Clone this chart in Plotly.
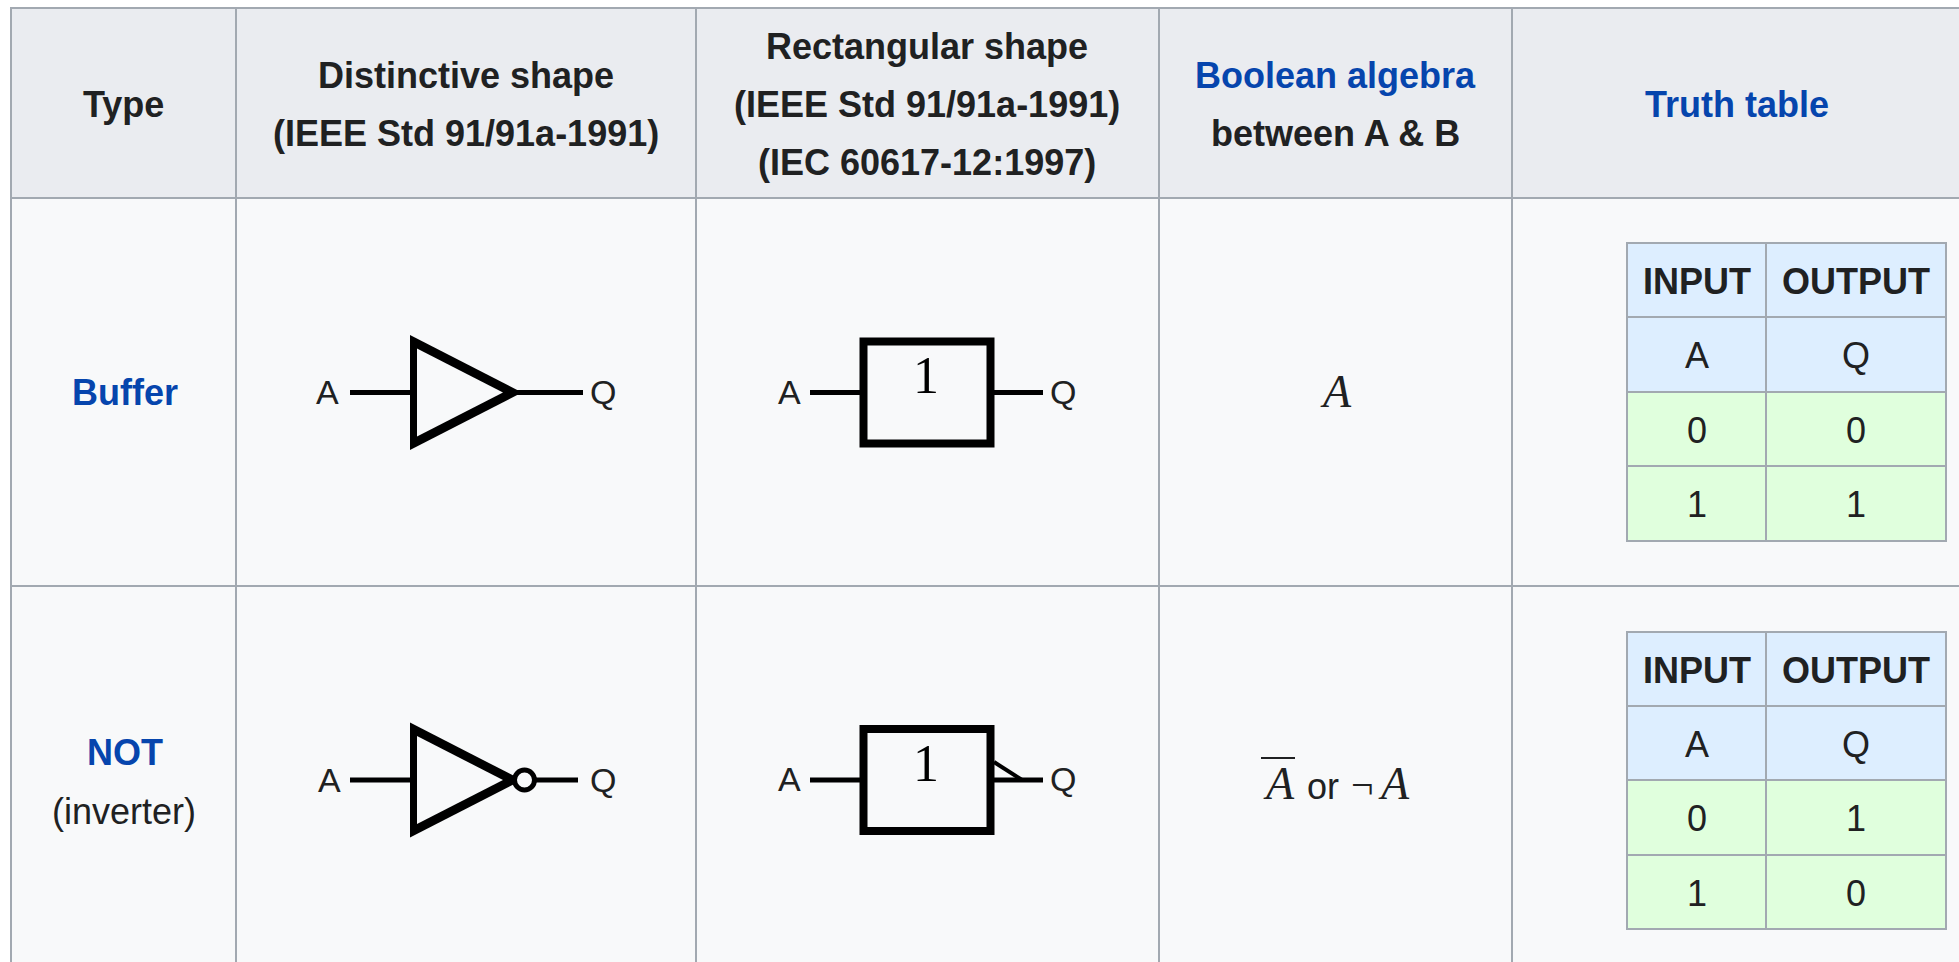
import plotly.graph_objects as go

# table text
TIPOS = ["Buffer", "NOT"]
SUBTIPOS = ["", "(inverter)"]
TITULOS = [
    [("Type", "#202122")],
    [("Distinctive shape", "#202122"), ("(IEEE Std 91/91a-1991)", "#202122")],
    [("Rectangular shape", "#202122"), ("(IEEE Std 91/91a-1991)", "#202122"), ("(IEC 60617-12:1997)", "#202122")],
    [("Boolean algebra", "#0645ad"), ("between A & B", "#202122")],
    [("Truth table", "#0645ad")],
]
CABECERA_VERDAD = ["INPUT", "OUTPUT"]
NOMBRES_VERDAD = ["A", "Q"]
ENTRADA = ["0", "1"]
SALIDA_BUFFER = ["0", "1"]
SALIDA_NOT = ["1", "0"]

# layout of the page, in pixels
ANCHO, ALTO = 1959, 962
COLUMNAS = [11, 236, 696, 1159, 1512, 1975]
FILAS = [8, 198, 586, 980]
COLS_VERDAD = [1627, 1766, 1946]
FILAS_VERDAD = [[243, 317, 392, 466, 541], [632, 706, 780, 855, 929]]
Y_FILA = [392.5, 780]

GRIS = "#a2a9b1"
TEXTO = "#202122"
AZUL = "#0645ad"
NEGRO = "#000000"
FONDO = "#f8f9fa"

shapes = []
notas = []


def caja(x0, y0, x1, y1, relleno, borde=GRIS, ancho=2):
    shapes.append(dict(type="rect", x0=x0, y0=y0, x1=x1, y1=y1, fillcolor=relleno,
                       line=dict(color=borde, width=ancho), layer="below"))


def linea(x0, y0, x1, y1, ancho=5):
    shapes.append(dict(type="line", x0=x0, y0=y0, x1=x1, y1=y1, layer="above",
                       line=dict(color=NEGRO, width=ancho)))


def texto(x, y, txt, size=36, color=TEXTO, bold=False, italic=False, family="Liberation Sans"):
    notas.append(dict(x=x, y=y, text=txt, showarrow=False, xanchor="center", yanchor="middle",
                      font=dict(size=size, color=color, family=family,
                                weight="bold" if bold else "normal",
                                style="italic" if italic else "normal")))


def relleno_path(camino, color):
    shapes.append(dict(type="path", path=camino, layer="above", fillcolor=color,
                       line=dict(width=0)))


def triangulo(y):
    # plotly bevels the sharp tip of a stroked path, so outer and inner shape are filled instead
    relleno_path(f"M410,{y - 57.5} L410,{y + 57.5} L522,{y} Z", NEGRO)
    relleno_path(f"M417,{y - 44} L417,{y + 44} L503,{y} Z", FONDO)
    linea(350, y, 411, y)


def simbolo_buffer(y):
    triangulo(y)
    linea(512, y, 583, y)
    texto(327, y - 1, "A", 34)
    texto(603, y - 1, "Q", 34)


def simbolo_not(y):
    triangulo(y)
    shapes.append(dict(type="circle", x0=514.5, x1=534.5, y0=y - 10, y1=y + 10, layer="above",
                       fillcolor=FONDO, line=dict(color=NEGRO, width=5)))
    linea(536, y, 578, y)
    texto(329, y, "A", 34)
    texto(603, y, "Q", 34)


def rectangulo(y, salida_x=1043):
    shapes.append(dict(type="rect", x0=863.5, x1=990.5, y0=y - 51, y1=y + 51, layer="above",
                       line=dict(color=NEGRO, width=8)))
    linea(810, y, 860, y)
    linea(994, y, salida_x, y)
    texto(789, y - 1, "A", 34)
    texto(1063, y - 1, "Q", 34)
    texto(926, y - 17, "1", 52, NEGRO, family="Liberation Serif")


def tabla_verdad(filas_y, salida):
    for i in range(2):
        for j in range(4):
            relleno = "#ddeeff" if j < 2 else "#e0ffdd"
            caja(COLS_VERDAD[i], filas_y[j], COLS_VERDAD[i + 1], filas_y[j + 1], relleno)
    for i in range(2):
        xc = (COLS_VERDAD[i] + COLS_VERDAD[i + 1]) / 2
        valores = ENTRADA if i == 0 else salida
        celdas = [CABECERA_VERDAD[i], NOMBRES_VERDAD[i], valores[0], valores[1]]
        for j, c in enumerate(celdas):
            texto(xc, (filas_y[j] + filas_y[j + 1]) / 2 + 1, c, 36, TEXTO, bold=j == 0)


# outer table
for i in range(5):
    caja(COLUMNAS[i], FILAS[0], COLUMNAS[i + 1], FILAS[1], "#eaecf0")
    caja(COLUMNAS[i], FILAS[1], COLUMNAS[i + 1], FILAS[2], FONDO)
    caja(COLUMNAS[i], FILAS[2], COLUMNAS[i + 1], FILAS[3], FONDO)

# headers, lines are 58px apart and centered in the row
centros = [123.5, 466, 927, 1335, 1737]
for cx, lineas in zip(centros, TITULOS):
    y0 = 104 - (len(lineas) - 1) * 29
    for k, (t, color) in enumerate(lineas):
        texto(cx, y0 + k * 58, t, 36, color, bold=True)

texto(125, Y_FILA[0], TIPOS[0], 36, AZUL, bold=True)
texto(125, 752, TIPOS[1], 36, AZUL, bold=True)
texto(124, 811, SUBTIPOS[1], 36)

simbolo_buffer(Y_FILA[0])
simbolo_not(Y_FILA[1])
rectangulo(Y_FILA[0])
rectangulo(Y_FILA[1])
linea(994, 762, 1022, 780, 4)

# boolean algebra column
texto(1336, 391, "A", 46, TEXTO, italic=True, family="Liberation Serif")
texto(1279, 783, "A", 46, TEXTO, italic=True, family="Liberation Serif")
shapes.append(dict(type="line", x0=1261, x1=1295, y0=758, y1=758, layer="above",
                   line=dict(color=TEXTO, width=2)))
texto(1323, 786, "or", 36)
texto(1362, 784, "¬", 40, TEXTO, family="Liberation Serif")
texto(1394, 783, "A", 46, TEXTO, italic=True, family="Liberation Serif")

tabla_verdad(FILAS_VERDAD[0], SALIDA_BUFFER)
tabla_verdad(FILAS_VERDAD[1], SALIDA_NOT)

fig = go.Figure(go.Scatter(x=[0, ANCHO], y=[0, ALTO], mode="none", hoverinfo="skip", showlegend=False))
fig.update_layout(
    width=ANCHO, height=ALTO, margin=dict(l=0, r=0, t=0, b=0),
    paper_bgcolor="#ffffff", plot_bgcolor="#ffffff",
    xaxis=dict(range=[0, ANCHO], visible=False, fixedrange=True),
    yaxis=dict(range=[ALTO, 0], visible=False, fixedrange=True),
    shapes=shapes, annotations=notas,
)
# the page has a default body margin, it shifts everything by 8px
fig.write_html("out.html", config={"displayModeBar": False},
               post_script="document.body.style.margin = '0';")
